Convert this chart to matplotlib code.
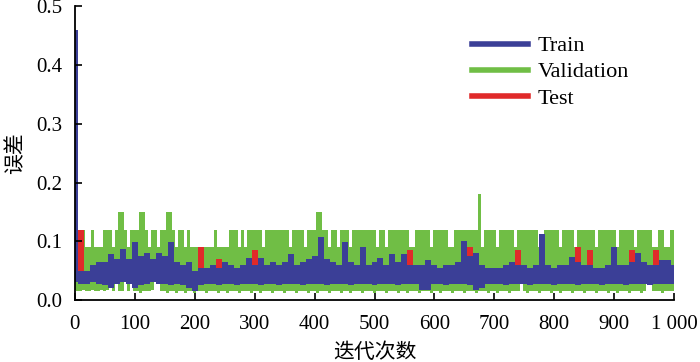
import numpy as np
import matplotlib
matplotlib.use("Agg")
import matplotlib.pyplot as plt
from matplotlib.lines import Line2D

# iterations: validation band read every 5 steps, train/test every 10 steps
iters5 = np.arange(0, 1001, 5)
iters10 = np.arange(0, 1001, 10)

# Validation error envelope (the raw curve oscillates so fast it reads as a band)
val_hi = [0.09, 0.09, 0.12, 0.12, 0.09, 0.09, 0.12, 0.09, 0.09, 0.09,   # 0-45
          0.12, 0.12, 0.12, 0.09, 0.12, 0.15, 0.15, 0.12, 0.09, 0.12,   # 50-95
          0.12, 0.12, 0.15, 0.15, 0.12, 0.09, 0.12, 0.12, 0.09, 0.12,   # 100-145
          0.12, 0.15, 0.15, 0.12, 0.09, 0.12, 0.12, 0.09, 0.12, 0.09,   # 150-195
          0.09, 0.09, 0.09, 0.09, 0.09, 0.09, 0.09, 0.12, 0.09, 0.09,   # 200-245
          0.09, 0.09, 0.12, 0.12, 0.12, 0.09, 0.12, 0.09, 0.12, 0.12,   # 250-295
          0.12, 0.12, 0.12, 0.09, 0.12, 0.12, 0.12, 0.12, 0.12, 0.12,   # 300-345
          0.12, 0.12, 0.09, 0.12, 0.12, 0.12, 0.12, 0.09, 0.12, 0.12,   # 350-395
          0.12, 0.15, 0.15, 0.12, 0.12, 0.09, 0.12, 0.12, 0.09, 0.12,   # 400-445
          0.12, 0.12, 0.09, 0.12, 0.12, 0.12, 0.12, 0.12, 0.12, 0.12,   # 450-495
          0.12, 0.09, 0.12, 0.12, 0.09, 0.12, 0.12, 0.12, 0.12, 0.12,   # 500-545
          0.12, 0.12, 0.09, 0.09, 0.12, 0.12, 0.12, 0.12, 0.12, 0.09,   # 550-595
          0.12, 0.12, 0.12, 0.12, 0.12, 0.09, 0.09, 0.12, 0.12, 0.12,   # 600-645
          0.12, 0.12, 0.12, 0.12, 0.12, 0.18, 0.09, 0.12, 0.12, 0.12,   # 650-695
          0.12, 0.09, 0.12, 0.12, 0.12, 0.12, 0.12, 0.09, 0.12, 0.12,   # 700-745
          0.12, 0.12, 0.12, 0.12, 0.12, 0.09, 0.09, 0.12, 0.12, 0.12,   # 750-795
          0.12, 0.12, 0.09, 0.12, 0.12, 0.12, 0.12, 0.09, 0.12, 0.12,   # 800-845
          0.12, 0.12, 0.12, 0.12, 0.09, 0.12, 0.12, 0.12, 0.12, 0.12,   # 850-895
          0.12, 0.09, 0.12, 0.12, 0.12, 0.12, 0.12, 0.09, 0.12, 0.12,   # 900-945
          0.12, 0.12, 0.12, 0.09, 0.09, 0.12, 0.12, 0.09, 0.09, 0.12,   # 950-995
          0.12]                                                         # 1000
val_lo = [0.017, 0.015, 0.015, 0.017, 0.015, 0.015, 0.017, 0.015, 0.015, 0.018,
          0.015, 0.018, 0.03, 0.015, 0.03, 0.015, 0.015, 0.03, 0.015, 0.03,
          0.015, 0.015, 0.012, 0.015, 0.015, 0.015, 0.018, 0.03, 0.03, 0.015,
          0.015, 0.012, 0.015, 0.015, 0.012, 0.015, 0.015, 0.012, 0.015, 0.015,
          0.012, 0.015, 0.015, 0.015, 0.012, 0.015, 0.015, 0.015, 0.012, 0.015,
          0.015, 0.012, 0.015, 0.015, 0.015, 0.012, 0.015, 0.015, 0.015, 0.012,
          0.015, 0.015, 0.012, 0.015, 0.015, 0.015, 0.012, 0.015, 0.015, 0.015,
          0.012, 0.015, 0.015, 0.015, 0.012, 0.015, 0.015, 0.015, 0.012, 0.015,
          0.015, 0.012, 0.015, 0.015, 0.015, 0.012, 0.015, 0.015, 0.015, 0.012,
          0.015, 0.015, 0.012, 0.015, 0.015, 0.015, 0.012, 0.015, 0.015, 0.015,
          0.012, 0.015, 0.015, 0.015, 0.012, 0.015, 0.015, 0.015, 0.012, 0.015,
          0.015, 0.012, 0.015, 0.015, 0.015, 0.012, 0.015, 0.015, 0.015, 0.012,
          0.015, 0.015, 0.012, 0.015, 0.015, 0.015, 0.012, 0.015, 0.015, 0.015,
          0.012, 0.015, 0.015, 0.015, 0.012, 0.015, 0.015, 0.015, 0.012, 0.015,
          0.015, 0.012, 0.015, 0.015, 0.015, 0.012, 0.015, 0.015, 0.015, 0.03,
          0.015, 0.012, 0.015, 0.015, 0.015, 0.012, 0.015, 0.015, 0.015, 0.012,
          0.015, 0.015, 0.012, 0.015, 0.015, 0.015, 0.012, 0.015, 0.015, 0.015,
          0.012, 0.015, 0.015, 0.015, 0.012, 0.015, 0.015, 0.015, 0.012, 0.015,
          0.015, 0.012, 0.015, 0.015, 0.015, 0.012, 0.015, 0.015, 0.015, 0.012,
          0.015, 0.03, 0.03, 0.015, 0.015, 0.015, 0.012, 0.015, 0.015, 0.015,
          0.015]

# Train error envelope
train_hi = [0.46, 0.05, 0.05, 0.06, 0.065, 0.065, 0.079, 0.07, 0.087, 0.07,
            0.099, 0.075, 0.08, 0.07, 0.08, 0.075, 0.099, 0.065, 0.06, 0.065,
            0.05, 0.055, 0.055, 0.06, 0.055, 0.065, 0.06, 0.055, 0.06, 0.072,
            0.06, 0.072, 0.06, 0.065, 0.06, 0.065, 0.079, 0.06, 0.065, 0.07,
            0.075, 0.107, 0.07, 0.065, 0.06, 0.099, 0.065, 0.06, 0.09, 0.06,
            0.065, 0.072, 0.06, 0.079, 0.065, 0.079, 0.06, 0.06, 0.06, 0.068,
            0.06, 0.055, 0.06, 0.06, 0.065, 0.101, 0.075, 0.08, 0.06, 0.055,
            0.055, 0.055, 0.06, 0.065, 0.06, 0.06, 0.055, 0.06, 0.113, 0.06,
            0.055, 0.06, 0.06, 0.074, 0.065, 0.06, 0.06, 0.055, 0.055, 0.06,
            0.091, 0.06, 0.06, 0.065, 0.08, 0.065, 0.06, 0.06, 0.068, 0.068,
            0.06]
train_lo = [0.03, 0.028, 0.027, 0.03, 0.028, 0.025, 0.02, 0.028, 0.03, 0.027,
            0.02, 0.025, 0.028, 0.03, 0.027, 0.028, 0.025, 0.027, 0.025, 0.02,
            0.015, 0.025, 0.027, 0.028, 0.025, 0.027, 0.028, 0.025, 0.027, 0.028,
            0.027, 0.025, 0.028, 0.027, 0.025, 0.027, 0.028, 0.027, 0.025, 0.027,
            0.028, 0.027, 0.025, 0.027, 0.028, 0.027, 0.025, 0.027, 0.028, 0.027,
            0.025, 0.027, 0.028, 0.027, 0.025, 0.027, 0.028, 0.027, 0.018, 0.018,
            0.027, 0.028, 0.025, 0.027, 0.028, 0.027, 0.025, 0.018, 0.02, 0.027,
            0.028, 0.027, 0.025, 0.027, 0.028, 0.027, 0.025, 0.027, 0.028, 0.027,
            0.025, 0.027, 0.028, 0.027, 0.025, 0.027, 0.028, 0.027, 0.025, 0.027,
            0.028, 0.027, 0.025, 0.027, 0.028, 0.027, 0.025, 0.027, 0.028, 0.027,
            0.027]

# Test error envelope (mostly hidden beneath the train band)
test_hi = [0.045, 0.12, 0.045, 0.045, 0.045, 0.045, 0.045, 0.045, 0.045, 0.045,
           0.045, 0.045, 0.045, 0.045, 0.045, 0.045, 0.045, 0.045, 0.045, 0.045,
           0.045, 0.09, 0.045, 0.045, 0.07, 0.045, 0.045, 0.045, 0.045, 0.045,
           0.085, 0.045, 0.045, 0.045, 0.045, 0.045, 0.045, 0.045, 0.045, 0.045,
           0.045, 0.045, 0.045, 0.045, 0.045, 0.045, 0.045, 0.045, 0.045, 0.045,
           0.045, 0.045, 0.045, 0.045, 0.045, 0.045, 0.085, 0.045, 0.045, 0.045,
           0.045, 0.045, 0.045, 0.045, 0.045, 0.045, 0.09, 0.045, 0.045, 0.045,
           0.045, 0.045, 0.045, 0.045, 0.085, 0.045, 0.045, 0.045, 0.045, 0.045,
           0.045, 0.045, 0.045, 0.045, 0.09, 0.045, 0.085, 0.045, 0.045, 0.045,
           0.045, 0.045, 0.045, 0.085, 0.045, 0.045, 0.045, 0.085, 0.045, 0.045,
           0.045]
test_lo = [0.035] * 101

x_ticks = [0, 100, 200, 300, 400, 500, 600, 700, 800, 900, 1000]
x_tick_labels = ["0", "100", "200", "300", "400", "500", "600", "700", "800", "900", "1 000"]
y_ticks = [0.0, 0.1, 0.2, 0.3, 0.4, 0.5]

C_TRAIN = "#3b3f97"
C_VAL = "#70be45"
C_TEST = "#e02a2a"

plt.rcParams["font.family"] = ["Liberation Serif", "Noto Sans CJK SC", "DejaVu Sans"]

fig = plt.figure(figsize=(7.0, 3.62), dpi=100)
ax = fig.add_axes([0.107, 0.171, 0.856, 0.812])

ax.fill_between(iters5, val_lo, val_hi, step="mid", color=C_VAL, lw=0)
ax.fill_between(iters10, test_lo, test_hi, step="mid", color=C_TEST, lw=0)
ax.fill_between(iters10, train_lo, train_hi, step="mid", color=C_TRAIN, lw=0)

ax.set_xlim(0, 1000)
ax.set_ylim(0, 0.5)
ax.set_xticks(x_ticks)
ax.set_xticklabels(x_tick_labels)
ax.set_yticks(y_ticks)
ax.set_yticklabels([f"{v:.1f}" for v in y_ticks])
ax.tick_params(direction="in", length=5, width=1.2, labelsize=15, pad=9)
ax.tick_params(axis="x", pad=11)
for s in ["top", "right"]:
    ax.spines[s].set_visible(False)
for s in ["left", "bottom"]:
    ax.spines[s].set_linewidth(1.3)

ax.set_xlabel("迭代次数", family=["Noto Sans CJK SC"], fontsize=15, labelpad=5)
ax.set_ylabel("误差", family=["Noto Sans CJK SC"], fontsize=15, labelpad=7)

handles = [Line2D([], [], color=C_TRAIN, lw=4),
           Line2D([], [], color=C_VAL, lw=4),
           Line2D([], [], color=C_TEST, lw=4)]
ax.legend(handles, ["Train", "Validation", "Test"], loc="upper left",
          bbox_to_anchor=(0.645, 0.937), frameon=False, fontsize=16,
          handlelength=2.5, handletextpad=0.45, labelspacing=0.25, borderpad=0)

fig.savefig("out.png", dpi=100)
